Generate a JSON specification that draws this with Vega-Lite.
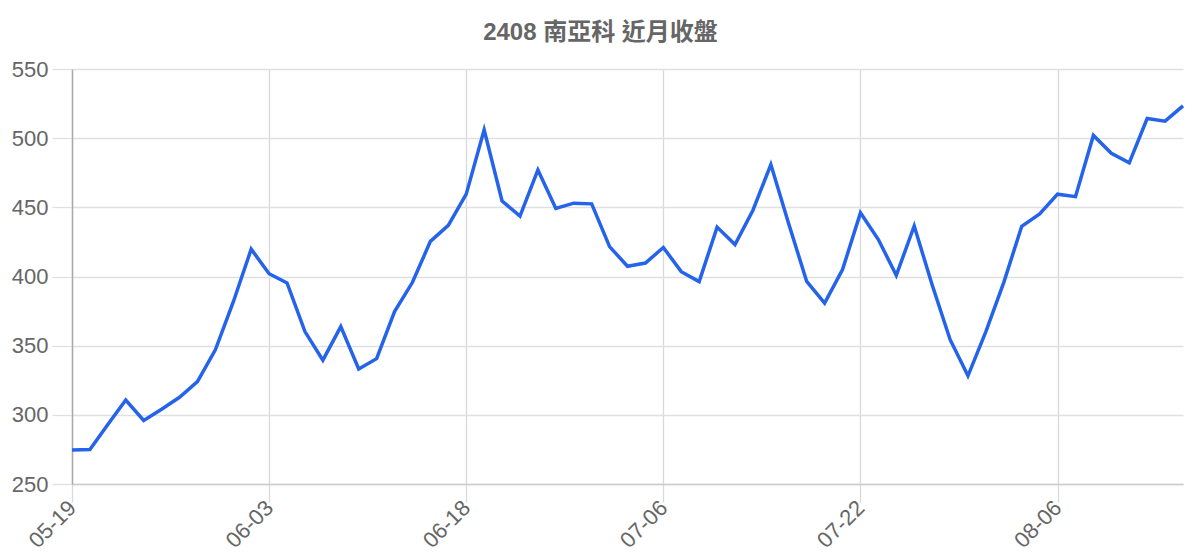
{
  "$schema": "https://vega.github.io/schema/vega-lite/v6.json",
  "description": "2408 close, last months",
  "autosize": {"type": "none"},
  "padding": {"left": 72, "top": 69, "right": 17, "bottom": 76},
  "width": 1111,
  "height": 415,
  "title": {
    "text": "2408 南亞科 近月收盤",
    "font": "Liberation Sans, Noto Sans CJK TC",
    "fontSize": 24,
    "fontWeight": "bold",
    "color": "#666666",
    "anchor": "middle",
    "dx": -27,
    "offset": 13
  },
  "data": {
    "values": [
      {"date": "05-19", "close": 274.5},
      {"date": "05-20", "close": 275},
      {"date": "05-21", "close": 293},
      {"date": "05-22", "close": 310.7},
      {"date": "05-23", "close": 296},
      {"date": "05-26", "close": 304},
      {"date": "05-27", "close": 312.7},
      {"date": "05-28", "close": 324},
      {"date": "05-29", "close": 347},
      {"date": "05-30", "close": 381.6},
      {"date": "06-02", "close": 419.8},
      {"date": "06-03", "close": 402},
      {"date": "06-04", "close": 395.3},
      {"date": "06-05", "close": 360.2},
      {"date": "06-06", "close": 339.5},
      {"date": "06-09", "close": 363.8},
      {"date": "06-10", "close": 333.1},
      {"date": "06-11", "close": 340.6},
      {"date": "06-12", "close": 374.6},
      {"date": "06-13", "close": 395.8},
      {"date": "06-16", "close": 425.4},
      {"date": "06-17", "close": 437},
      {"date": "06-18", "close": 459.5},
      {"date": "06-19", "close": 506},
      {"date": "06-20", "close": 454.6},
      {"date": "06-23", "close": 443.7},
      {"date": "06-24", "close": 477},
      {"date": "06-25", "close": 449.2},
      {"date": "06-26", "close": 453},
      {"date": "06-27", "close": 452.5},
      {"date": "06-30", "close": 421.6},
      {"date": "07-01", "close": 407.4},
      {"date": "07-03", "close": 409.7},
      {"date": "07-06", "close": 421},
      {"date": "07-07", "close": 403.5},
      {"date": "07-08", "close": 396.3},
      {"date": "07-09", "close": 435.7},
      {"date": "07-10", "close": 423.1},
      {"date": "07-11", "close": 447.9},
      {"date": "07-14", "close": 480.9},
      {"date": "07-15", "close": 438},
      {"date": "07-16", "close": 396.4},
      {"date": "07-17", "close": 380.8},
      {"date": "07-18", "close": 405},
      {"date": "07-22", "close": 446},
      {"date": "07-23", "close": 426.7},
      {"date": "07-24", "close": 400.9},
      {"date": "07-25", "close": 436.5},
      {"date": "07-28", "close": 394},
      {"date": "07-29", "close": 354.5},
      {"date": "07-30", "close": 328.2},
      {"date": "07-31", "close": 360.2},
      {"date": "08-01", "close": 395.8},
      {"date": "08-04", "close": 436.3},
      {"date": "08-05", "close": 445.3},
      {"date": "08-06", "close": 459.5},
      {"date": "08-07", "close": 457.7},
      {"date": "08-08", "close": 502},
      {"date": "08-11", "close": 489.1},
      {"date": "08-12", "close": 482.2},
      {"date": "08-13", "close": 514.2},
      {"date": "08-14", "close": 512.3},
      {"date": "08-15", "close": 523.4}
    ]
  },
  "mark": {
    "type": "line",
    "color": "#2563eb",
    "strokeWidth": 3.5,
    "strokeJoin": "miter"
  },
  "encoding": {
    "x": {
      "field": "date",
      "type": "ordinal",
      "sort": null,
      "scale": {"type": "point", "padding": 0},
      "axis": {
        "title": null,
        "values": ["05-19", "06-03", "06-18", "07-06", "07-22", "08-06"],
        "labelAngle": -45,
        "labelAlign": "right",
        "labelBaseline": "middle",
        "labelFontSize": 22,
        "labelPadding": 2,
        "tickSize": 18,
        "tickColor": "#d9d9d9",
        "gridColor": "#d9d9d9",
        "domainColor": "#cccccc",
        "domainWidth": 1.5
      }
    },
    "y": {
      "field": "close",
      "type": "quantitative",
      "scale": {"domain": [250, 550], "nice": false, "zero": false},
      "axis": {
        "title": null,
        "values": [250, 300, 350, 400, 450, 500, 550],
        "labelFontSize": 22,
        "labelPadding": 4,
        "tickSize": 20,
        "tickColor": "#e0e0e0",
        "gridColor": "#e0e0e0",
        "domainColor": "#aaaaaa",
        "domainWidth": 1.5
      }
    }
  },
  "config": {
    "background": "white",
    "view": {"stroke": null},
    "axis": {
      "labelFont": "Liberation Sans",
      "labelColor": "#666666",
      "grid": true,
      "gridWidth": 1.3,
      "tickWidth": 1.3
    }
  }
}
